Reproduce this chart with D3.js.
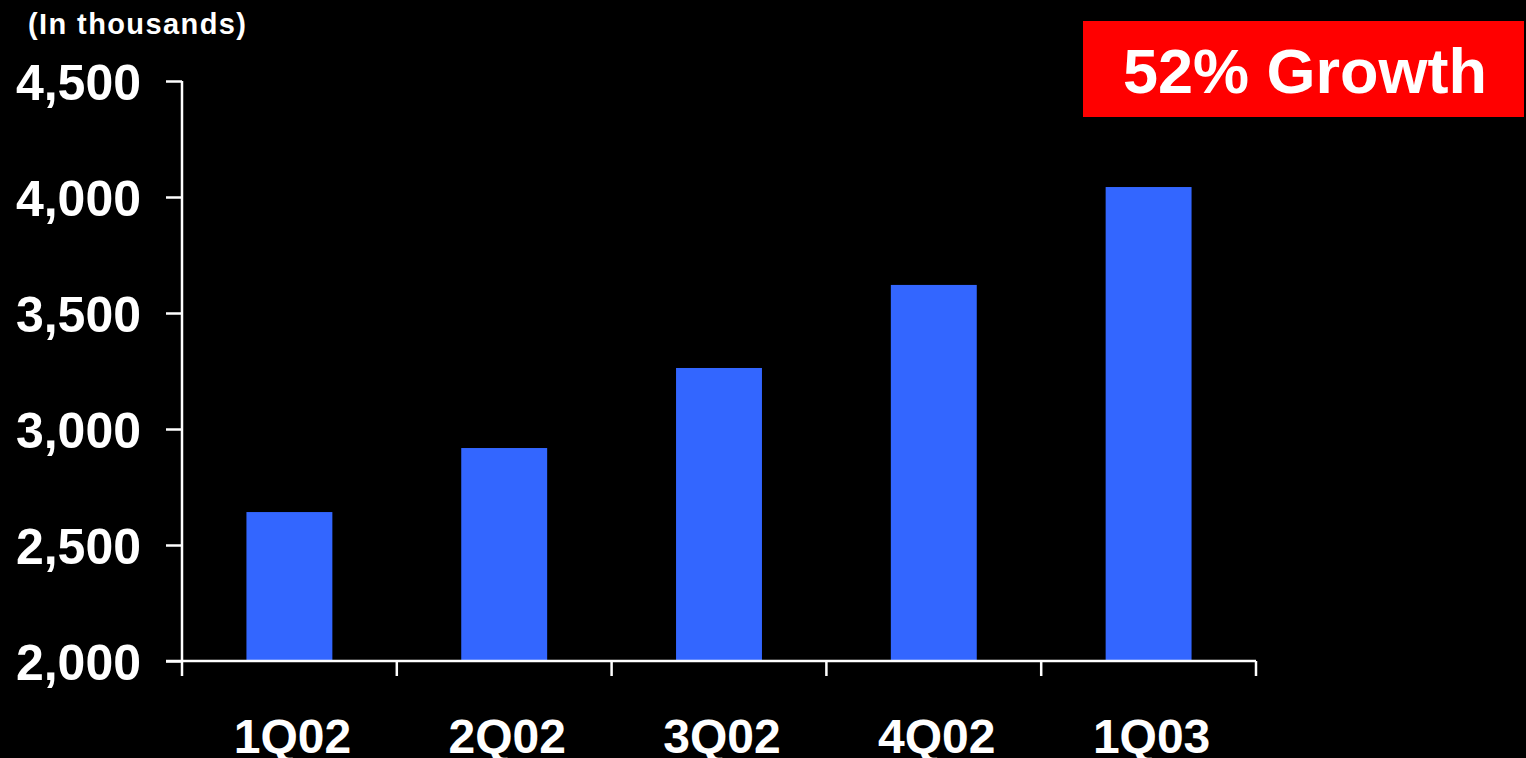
<!DOCTYPE html>
<html><head><meta charset="utf-8">
<script src="https://cdn.jsdelivr.net/npm/d3@7"></script>
<style>html,body{margin:0;padding:0;background:#000;}svg{display:block;}</style>
</head><body>
<script>
const categories = ["1Q02","2Q02","3Q02","4Q02","1Q03"];
const values = [2642, 2918, 3263, 3621, 4043];
const yTicks = [2000, 2500, 3000, 3500, 4000, 4500];
const unitLabel = "(In thousands)";
const badgeText = "52% Growth";

const W = 1526, H = 758;
const m = {left: 182, right: 270, top: 81, bottom: 97};
const svg = d3.select("body").append("svg").attr("width", W).attr("height", H)
  .style("font-family", "'Liberation Sans', Arial, sans-serif");
svg.append("rect").attr("width", W).attr("height", H).attr("fill", "#000");

const x = d3.scaleBand().domain(categories).range([m.left, 1256]).paddingInner(0.6).paddingOuter(0.3);
const y = d3.scaleLinear().domain([2000, 4500]).range([661, 81]);

// bars
svg.append("g").selectAll("rect").data(values).join("rect")
  .attr("x", (d,i) => x(categories[i]))
  .attr("width", x.bandwidth())
  .attr("y", d => y(d))
  .attr("height", d => y(2000) - y(d))
  .attr("fill", "#3366FF");

// y axis
const yAxis = svg.append("g").attr("transform", `translate(${m.left},0)`)
  .call(d3.axisLeft(y).tickValues(yTicks).tickSize(16).tickPadding(26).tickFormat(d3.format(",")));
yAxis.select(".domain").attr("stroke", "#fff").attr("stroke-width", 2.5).attr("d", `M0,${y(4500)}V676`);
yAxis.selectAll(".tick line").attr("stroke", "#fff").attr("stroke-width", 2.5);
yAxis.selectAll(".tick text").attr("fill", "#fff").attr("font-size", 50).attr("font-weight", "bold")
  .attr("dy", "0.36em").attr("x", -41);

// x axis
const xg = svg.append("g");
xg.append("line").attr("x1", 166).attr("x2", 1256).attr("y1", 661).attr("y2", 661)
  .attr("stroke", "#fff").attr("stroke-width", 2.5);
const step = (1256 - m.left) / categories.length;
xg.selectAll("line.t").data(d3.range(1, categories.length + 1)).join("line").attr("class", "t")
  .attr("x1", i => m.left + i * step).attr("x2", i => m.left + i * step)
  .attr("y1", 661).attr("y2", 676).attr("stroke", "#fff").attr("stroke-width", 2.5);
xg.selectAll("text").data(categories).join("text")
  .attr("x", d => x(d) + x.bandwidth() / 2 + 3)
  .attr("y", 753)
  .attr("text-anchor", "middle")
  .attr("fill", "#fff").attr("font-size", 48).attr("font-weight", "bold")
  .text(d => d);

// unit label
svg.append("text").attr("x", 28).attr("y", 34).attr("fill", "#fff")
  .attr("font-size", 29).attr("font-weight", "bold").attr("letter-spacing", 1.4).text(unitLabel);

// badge
svg.append("rect").attr("x", 1083).attr("y", 21).attr("width", 441).attr("height", 96).attr("fill", "#FF0000");
svg.append("text").attr("x", 1305).attr("y", 93).attr("text-anchor", "middle")
  .attr("fill", "#fff").attr("font-size", 63).attr("font-weight", "bold").text(badgeText);
</script>
</body></html>
